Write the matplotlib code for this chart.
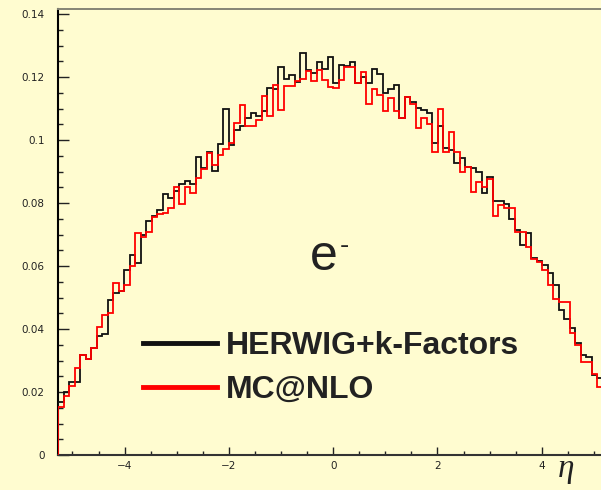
import numpy as np
import matplotlib
matplotlib.use("Agg")
import matplotlib.pyplot as plt
from matplotlib.lines import Line2D
from matplotlib.ticker import MultipleLocator, FixedLocator

# ---- data ----
x_range = (-5.27, 5.27)
n_bins = 100

herwig = [
    0.0168, 0.0201, 0.0231, 0.0231, 0.0317, 0.0305, 0.0341, 0.0379, 0.0383, 0.0492,
    0.0513, 0.0521, 0.0586, 0.0636, 0.0608, 0.0698, 0.0742, 0.0760, 0.0777, 0.0830,
    0.0815, 0.0839, 0.0860, 0.0871, 0.0860, 0.0947, 0.0912, 0.0963, 0.0902, 0.0987,
    0.1100, 0.0984, 0.1033, 0.1045, 0.1069, 0.1085, 0.1077, 0.1092, 0.1164, 0.1161,
    0.1231, 0.1193, 0.1206, 0.1183, 0.1275, 0.1222, 0.1214, 0.1249, 0.1225, 0.1263,
    0.1180, 0.1237, 0.1235, 0.1249, 0.1182, 0.1199, 0.1180, 0.1224, 0.1210, 0.1148,
    0.1161, 0.1175, 0.1069, 0.1138, 0.1122, 0.1101, 0.1095, 0.1085, 0.0989, 0.1046,
    0.0974, 0.0969, 0.0928, 0.0942, 0.0913, 0.0910, 0.0897, 0.0833, 0.0884, 0.0805,
    0.0808, 0.0797, 0.0748, 0.0715, 0.0666, 0.0706, 0.0624, 0.0617, 0.0603, 0.0577,
    0.0540, 0.0460, 0.0432, 0.0402, 0.0357, 0.0319, 0.0310, 0.0255, 0.0245, 0.0233,
]

mcatnlo = [
    0.0151, 0.0188, 0.0220, 0.0277, 0.0317, 0.0305, 0.0341, 0.0407, 0.0443, 0.0450,
    0.0547, 0.0521, 0.0541, 0.0600, 0.0705, 0.0693, 0.0709, 0.0755, 0.0765, 0.0768,
    0.0783, 0.0850, 0.0796, 0.0852, 0.0832, 0.0881, 0.0908, 0.0958, 0.0921, 0.0952,
    0.0973, 0.0989, 0.1053, 0.1112, 0.1045, 0.1044, 0.1065, 0.1140, 0.1076, 0.1176,
    0.1095, 0.1170, 0.1170, 0.1187, 0.1193, 0.1218, 0.1188, 0.1222, 0.1192, 0.1169,
    0.1165, 0.1190, 0.1233, 0.1233, 0.1182, 0.1217, 0.1114, 0.1161, 0.1143, 0.1092,
    0.1132, 0.1092, 0.1069, 0.1138, 0.1114, 0.1039, 0.1069, 0.1051, 0.0963, 0.1097,
    0.0963, 0.1026, 0.0963, 0.0899, 0.0913, 0.0836, 0.0868, 0.0852, 0.0875, 0.0759,
    0.0794, 0.0783, 0.0783, 0.0709, 0.0709, 0.0660, 0.0622, 0.0614, 0.0587, 0.0540,
    0.0494, 0.0487, 0.0487, 0.0386, 0.0349, 0.0296, 0.0296, 0.0256, 0.0216, 0.0184,
]

series_labels = ["HERWIG+k-Factors", "MC@NLO"]
x_ticks = [-4, -2, 0, 2, 4]
x_ticklabels = ["\u22124", "\u22122", "0", "2", "4"]
y_ticks = [0, 0.02, 0.04, 0.06, 0.08, 0.1, 0.12, 0.14]
y_ticklabels = ["0", "0.02", "0.04", "0.06", "0.08", "0.1", "0.12", "0.14"]

# ---- figure ----
bg = "#FFFCD0"
W, H = 601, 490
fig = plt.figure(figsize=(W / 100, H / 100), dpi=100, facecolor=bg)
ax = fig.add_axes([58.4 / W, 35 / H, 549.6 / W, 446 / H])
ax.set_facecolor(bg)

edges = np.linspace(x_range[0], x_range[1], n_bins + 1)
ax.stairs(herwig, edges, baseline=0, color="#111111", lw=1.3, zorder=3)
ax.stairs(mcatnlo, edges, baseline=0, color="#FF0000", lw=1.3, zorder=4)

ax.set_xlim(*x_range)
ax.set_ylim(0, 0.1416)

# spines
ax.spines["right"].set_visible(False)
ax.spines["left"].set_color("#000000")
ax.spines["left"].set_linewidth(1.5)
ax.spines["bottom"].set_color("#333333")
ax.spines["bottom"].set_linewidth(1.5)
ax.spines["top"].set_color("#858575")
ax.spines["top"].set_linewidth(1.4)

# ticks
ax.xaxis.set_major_locator(FixedLocator(x_ticks))
ax.set_xticklabels(x_ticklabels)
ax.xaxis.set_minor_locator(MultipleLocator(0.5))
ax.yaxis.set_major_locator(FixedLocator(y_ticks))
ax.set_yticklabels(y_ticklabels)
ax.yaxis.set_minor_locator(MultipleLocator(0.005))

ax.tick_params(axis="y", which="major", direction="in", length=8, width=1.0,
               color="#222222", pad=10, labelsize=7.5, labelcolor="#222222")
ax.tick_params(axis="y", which="minor", direction="in", length=3.8, width=1.0,
               color="#222222")
ax.tick_params(axis="x", which="major", direction="in", length=6, width=1.0,
               color="#222222", pad=4, labelsize=7.5, labelcolor="#222222")
ax.tick_params(axis="x", which="minor", direction="in", length=3, width=1.0,
               color="#222222")
ax.tick_params(top=False, right=False, which="both")

# e- label
ax.text(-0.445, 0.0587, "e", fontsize=36, family="Liberation Sans",
        color="#222222", ha="left", va="baseline")
ax.text(0.13, 0.0665, "-", fontsize=20, family="Liberation Sans",
        color="#222222", ha="left", va="center")

# eta label
ax.text(4.31, -0.0070, "\u03b7", fontsize=24, family="Liberation Serif",
        style="italic", color="#222222", ha="left", va="baseline", clip_on=False)

# legend
handles = [Line2D([], [], color="#111111", lw=3.5),
           Line2D([], [], color="#FF0000", lw=3.5)]
leg = ax.legend(handles, series_labels, loc="center left",
                bbox_to_anchor=(0.154, 0.195), frameon=False,
                prop={"family": "Liberation Sans", "weight": "bold", "size": 23},
                handlelength=2.3, handletextpad=0.3, labelspacing=0.42,
                borderpad=0, borderaxespad=0, labelcolor="#222222")

fig.savefig("out.png", dpi=100, facecolor=bg)
